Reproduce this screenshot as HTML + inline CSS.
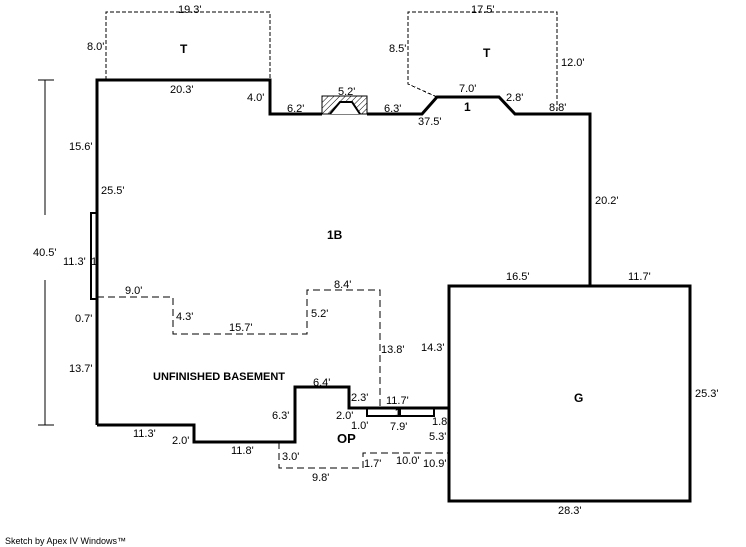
<!DOCTYPE html>
<html><head><style>html,body{margin:0;padding:0;background:#fff}svg{display:block}</style></head>
<body>
<svg width="746" height="547" xmlns="http://www.w3.org/2000/svg" font-family="Liberation Sans, Arial, sans-serif" font-size="11">
<defs>
<pattern id="h" width="4" height="4" patternUnits="userSpaceOnUse" patternTransform="rotate(45)"><line x1="0" y1="0" x2="0" y2="4" stroke="#000" stroke-width="1"/></pattern>
</defs>
<!-- dimension line -->
<g stroke="#000" stroke-width="1" shape-rendering="crispEdges">
<line x1="45" y1="80" x2="45" y2="215"/><line x1="45" y1="280" x2="45" y2="425"/>
<line x1="38" y1="80" x2="54" y2="80"/><line x1="38" y1="425" x2="54" y2="425"/>
</g>
<!-- dashed -->
<g fill="none" stroke="#000" stroke-width="1" stroke-dasharray="4,2" shape-rendering="crispEdges">
<polyline points="106,80 106,12 270,12 270,80"/>
<polyline points="437,97 408,84 408,12 557,12 557,114"/>
</g>
<g fill="none" stroke="#000" stroke-width="1" stroke-dasharray="7,4" shape-rendering="crispEdges">
<polyline points="97,297 173,297 173,334 307,334 307,290 380,290 380,407"/>
<polyline points="279,442 279,468 363,468 363,453 449,453"/>
</g>
<!-- fireplace -->
<rect x="322" y="96" width="45" height="18" fill="url(#h)" stroke="#000" stroke-width="1"/>
<path d="M330,114 L340,102 L352,102 L360,114" fill="#fff" stroke="#000" stroke-width="2"/>
<!-- main outline -->
<g fill="none" stroke="#000" stroke-width="3">
<polyline points="97,425 97,80 270,80 270,114 322,114"/>
<polyline points="367,114 422,114 437,97 499,97 515,114 590,114 590,286"/>
<polyline points="97,425 194,425 194,442 295,442 295,387 349,387 349,408 449,408"/>
<rect x="449" y="286" width="241" height="215"/>
</g>
<g fill="none" stroke="#000" stroke-width="2">
<rect x="91" y="213" width="6" height="86"/>
<rect x="367" y="408" width="67" height="8"/>
<line x1="400" y1="408" x2="400" y2="416"/>
</g>
<!-- labels -->
<g fill="#000">
<text x="178" y="13">19.3'</text>
<text x="87" y="50">8.0'</text>
<text x="170" y="93">20.3'</text>
<text x="247" y="101">4.0'</text>
<text x="287" y="112">6.2'</text>
<text x="338" y="95">5.2'</text>
<text x="384" y="112">6.3'</text>
<text x="418" y="125">37.5'</text>
<text x="471" y="13">17.5'</text>
<text x="389" y="52">8.5'</text>
<text x="561" y="66">12.0'</text>
<text x="459" y="92">7.0'</text>
<text x="506" y="101">2.8'</text>
<text x="549" y="111">8.8'</text>
<text x="595" y="204">20.2'</text>
<text x="69" y="150">15.6'</text>
<text x="101" y="194">25.5'</text>
<text x="33" y="256">40.5'</text>
<text x="63" y="265">11.3'</text>
<text x="91" y="265">1</text>
<text x="125" y="294">9.0'</text>
<text x="75" y="322">0.7'</text>
<text x="176" y="320">4.3'</text>
<text x="229" y="331">15.7'</text>
<text x="334" y="288">8.4'</text>
<text x="311" y="317">5.2'</text>
<text x="381" y="353">13.8'</text>
<text x="421" y="351">14.3'</text>
<text x="69" y="372">13.7'</text>
<text x="313" y="386">6.4'</text>
<text x="272" y="419">6.3'</text>
<text x="351" y="401">2.3'</text>
<text x="386" y="404">11.7'</text>
<text x="336" y="419">2.0'</text>
<text x="351" y="429">1.0'</text>
<text x="390" y="430">7.9'</text>
<text x="432" y="425">1.8'</text>
<text x="429" y="440">5.3'</text>
<text x="133" y="437">11.3'</text>
<text x="172" y="444">2.0'</text>
<text x="231" y="454">11.8'</text>
<text x="282" y="460">3.0'</text>
<text x="364" y="467">1.7'</text>
<text x="396" y="464">10.0'</text>
<text x="423" y="467">10.9'</text>
<text x="312" y="481">9.8'</text>
<text x="506" y="280">16.5'</text>
<text x="628" y="280">11.7'</text>
<text x="695" y="397">25.3'</text>
<text x="558" y="514">28.3'</text>
<text x="5" y="544" font-size="9">Sketch by Apex IV Windows™</text>
</g>
<g fill="#000" font-weight="bold" font-size="12">
<text x="180" y="53">T</text>
<text x="483" y="57">T</text>
<text x="464" y="111">1</text>
<text x="395" y="416" font-size="11">1</text>
<text x="327" y="239">1B</text>
<text x="153" y="380" font-size="11">UNFINISHED BASEMENT</text>
<text x="337" y="443" font-size="13">OP</text>
<text x="574" y="402">G</text>
</g>
</svg>
</body></html>
